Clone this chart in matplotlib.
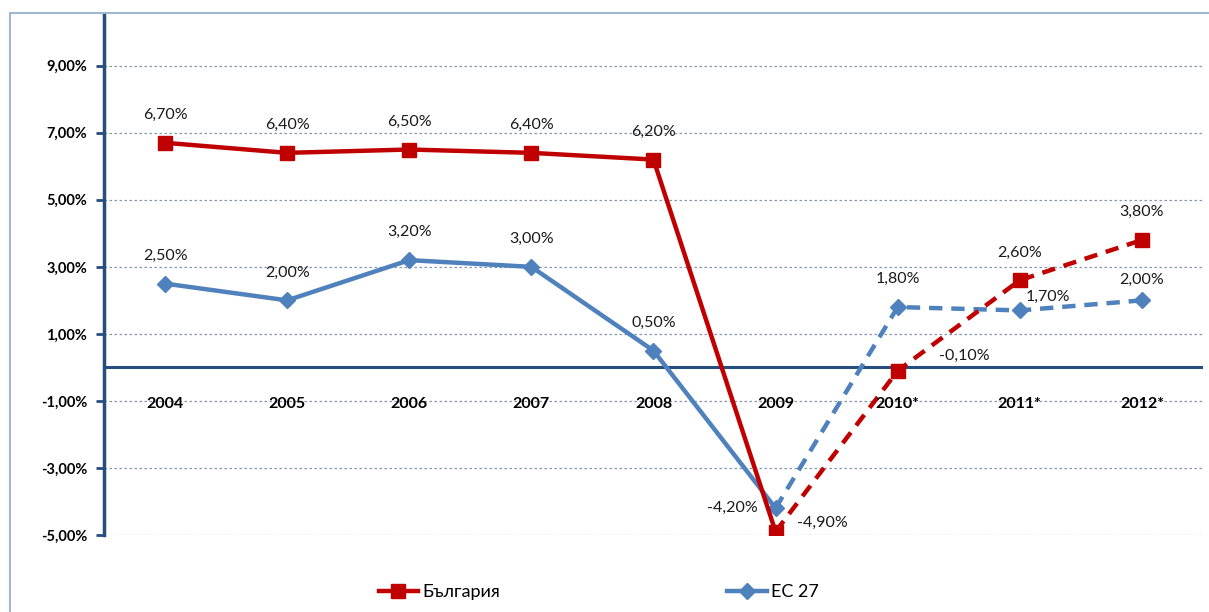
import matplotlib.pyplot as plt
from matplotlib.patches import Rectangle

plt.rcParams['font.family'] = ['Lato', 'DejaVu Sans']

years = ['2004', '2005', '2006', '2007', '2008', '2009', '2010*', '2011*', '2012*']
bulgaria = [6.7, 6.4, 6.5, 6.4, 6.2, -4.9, -0.1, 2.6, 3.8]
eu27 = [2.5, 2.0, 3.2, 3.0, 0.5, -4.2, 1.8, 1.7, 2.0]
split = 5  # from 2009 on the line is a forecast (dashed)

red = '#C00000'
blue = '#4F81BD'
axis_col = '#254E7E'

fig = plt.figure(figsize=(12.09, 6.12), dpi=100)
ax = fig.add_axes([0.086, 0.1258, 0.909, 0.849])

fig.patches.append(Rectangle((10 / 1209, -0.01), 1.2, 1 - 13 / 612 + 0.01,
                             transform=fig.transFigure, fill=False,
                             edgecolor='#8EA9C8', lw=1.2))

x = list(range(len(years)))

# solid parts
ax.plot(x[:split + 1], bulgaria[:split + 1], color=red, lw=3.2, marker='s',
        ms=10, zorder=4, solid_capstyle='round')
ax.plot(x[:split + 1], eu27[:split + 1], color=blue, lw=3.2, marker='D',
        ms=8, zorder=3, solid_capstyle='round')
# forecast parts
ax.plot(x[split:], bulgaria[split:], color=red, lw=3.2, ls=(0, (3, 2)),
        zorder=4)
ax.plot(x[split + 1:], bulgaria[split + 1:], color=red, lw=0, marker='s',
        ms=10, zorder=4)
ax.plot(x[split:], eu27[split:], color=blue, lw=3.2, ls=(0, (3, 2)), zorder=3)
ax.plot(x[split + 1:], eu27[split + 1:], color=blue, lw=0, marker='D',
        ms=8, zorder=3)

def pct(v):
    return ('%.2f%%' % v).replace('.', ',')

# data labels: offsets in points
bg_off = [(0, 20), (0, 20), (0, 20), (0, 20), (0, 20), (34, 6), (48, 11),
          (0, 20), (0, 20)]
eu_off = [(0, 20), (0, 20), (0, 20), (0, 20), (0, 20), (-31, 0), (0, 20),
          (20, 10), (0, 15)]
for i in x:
    ax.annotate(pct(bulgaria[i]), (i, bulgaria[i]), xytext=bg_off[i],
                textcoords='offset points', ha='center', va='center',
                fontsize=11.5, color='#1a1a1a', zorder=6)
    ax.annotate(pct(eu27[i]), (i, eu27[i]), xytext=eu_off[i],
                textcoords='offset points', ha='center', va='center',
                fontsize=11.5, color='#1a1a1a', zorder=6)

ax.set_xlim(-0.5, len(years) - 0.5)
ax.set_ylim(-5, 10.5)
yt = [-5, -3, -1, 1, 3, 5, 7, 9]
ax.set_yticks(yt)
ax.set_yticklabels([pct(v) for v in yt], fontsize=10.5, fontweight='bold')
ax.tick_params(axis='y', length=6, width=2, color=axis_col, pad=6)
ax.set_xticks([])
for v in yt:
    ax.axhline(v, color='#8497B0', lw=0.9, ls=(0, (2, 2)), zorder=1)
ax.axhline(0, color=axis_col, lw=2.2, zorder=2)

for i, lab in enumerate(years):
    ax.text(i, -1.1, lab, ha='center', va='center', fontsize=11.5,
            fontweight='bold', zorder=5)

for s in ['top', 'right', 'bottom']:
    ax.spines[s].set_visible(False)
ax.spines['left'].set_color(axis_col)
ax.spines['left'].set_linewidth(2.5)

leg = ax.legend(
    [plt.Line2D([], [], color=red, lw=3.2, marker='s', ms=10),
     plt.Line2D([], [], color=blue, lw=3.2, marker='D', ms=8)],
    ['България', 'ЕС 27'], loc='center', bbox_to_anchor=(0.45, -0.11),
    ncol=2, frameon=False, fontsize=13, columnspacing=12.6, handlelength=2.2,
    handletextpad=0.2)

fig.savefig('out.png', dpi=100)
